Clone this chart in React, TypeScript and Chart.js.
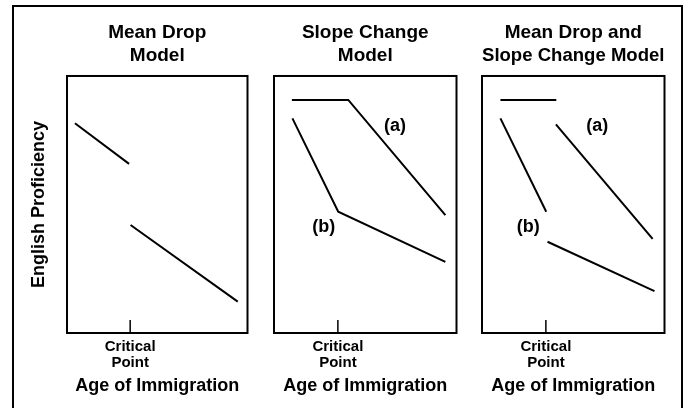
import React, { useEffect, useRef } from 'react';
import { Chart, registerables } from 'chart.js';

Chart.register(...registerables);

const FONT = '"Liberation Sans", Arial, Helvetica, sans-serif';

// ---- data ----
const xRange = [0, 100];
const yRange = [0, 100];
const criticalPoint = 35;
const criticalLabel = ['Critical', 'Point'];
const xAxisTitle = 'Age of Immigration';
const yAxisTitle = 'English Proficiency';

const titleMeanDrop = ['Mean Drop', 'Model'];
const titleSlopeChange = ['Slope Change', 'Model'];
const titleCombined = ['Mean Drop and', 'Slope Change Model'];

// Mean Drop Model
const meanDropBefore = [{ x: 4.4, y: 81.6 }, { x: 34.4, y: 65.8 }];
const meanDropAfter = [{ x: 35.2, y: 42.0 }, { x: 94.6, y: 12.2 }];

// Slope Change Model
const slopeA = [{ x: 9.8, y: 90.7 }, { x: 40.7, y: 90.7 }, { x: 93.9, y: 45.9 }];
const slopeB = [{ x: 10.1, y: 83.5 }, { x: 35.2, y: 47.2 }, { x: 93.9, y: 27.7 }];
const slopeLabels = [{ text: '(a)', x: 66.3, y: 80.7 }, { text: '(b)', x: 27.2, y: 41.4 }];

// Mean Drop and Slope Change Model
const combinedAFlat = [{ x: 10.1, y: 90.7 }, { x: 40.7, y: 90.7 }];
const combinedADrop = [{ x: 40.5, y: 81.2 }, { x: 93.5, y: 36.6 }];
const combinedBBefore = [{ x: 10.1, y: 83.5 }, { x: 35.2, y: 47.2 }];
const combinedBAfter = [{ x: 35.9, y: 35.5 }, { x: 94.5, y: 16.3 }];
const combinedLabels = [{ text: '(a)', x: 63.2, y: 80.7 }, { text: '(b)', x: 25.4, y: 41.4 }];

type Pt = { x: number; y: number };
type Lbl = { text: string; x: number; y: number };

interface PanelProps {
  left: number;
  width: number;
  title: string[];
  series: Pt[][];
  labels: Lbl[];
  showY: boolean;
  padLeft: number;
  padRight: number;
}

function Panel({ left, width, title, series, labels, showY, padLeft, padRight }: PanelProps) {
  const ref = useRef<HTMLCanvasElement | null>(null);
  useEffect(() => {
    if (!ref.current) return;
    const framePlugin = {
      id: 'frameAndLabels',
      afterDatasetsDraw(chart: any) {
        const { ctx, chartArea: a, scales } = chart;
        ctx.save();
        ctx.strokeStyle = '#000';
        ctx.lineWidth = 2;
        ctx.strokeRect(a.left, a.top, a.right - a.left, a.bottom - a.top);
        const px = scales.x.getPixelForValue(criticalPoint);
        ctx.lineWidth = 1.5;
        ctx.beginPath();
        ctx.moveTo(px, a.bottom);
        ctx.lineTo(px, a.bottom - 13);
        ctx.stroke();
        ctx.fillStyle = '#000';
        ctx.font = `bold 18px ${FONT}`;
        ctx.textAlign = 'center';
        ctx.textBaseline = 'middle';
        for (const l of labels) {
          ctx.fillText(l.text, scales.x.getPixelForValue(l.x), scales.y.getPixelForValue(l.y));
        }
        ctx.restore();
      },
    };
    const chart = new Chart(ref.current, {
      type: 'line',
      data: {
        datasets: series.map((s) => ({
          data: s,
          borderColor: '#000',
          borderWidth: 2,
          pointRadius: 0,
          fill: false,
          tension: 0,
        })),
      },
      options: {
        animation: false,
        responsive: false,
        events: [],
        layout: { padding: { left: padLeft, right: padRight, top: 0, bottom: 0 } },
        plugins: {
          legend: { display: false },
          tooltip: { enabled: false },
          title: {
            display: true,
            text: title,
            color: '#000',
            fullSize: false,
            font: { family: FONT, size: 19, weight: 'bold', lineHeight: 1.21 },
            padding: { top: 21.5, bottom: 8.5 },
          },
        },
        scales: {
          x: {
            type: 'linear',
            min: xRange[0],
            max: xRange[1],
            position: 'bottom',
            grid: { display: false, drawTicks: false, tickLength: 0 },
            border: { display: false },
            afterBuildTicks: (scale: any) => {
              scale.ticks = [{ value: criticalPoint }];
            },
            afterFit: (scale: any) => {
              scale.height = 75;
            },
            ticks: {
              autoSkip: false,
              maxRotation: 0,
              minRotation: 0,
              padding: 6,
              color: '#000',
              font: { family: FONT, size: 15, weight: 'bold', lineHeight: 1.07 },
              callback: () => criticalLabel,
            },
            title: {
              display: true,
              text: xAxisTitle,
              color: '#000',
              font: { family: FONT, size: 18, weight: 'bold', lineHeight: 1.2 },
              padding: { top: 0, bottom: 11.2 },
            },
          },
          y: {
            type: 'linear',
            min: yRange[0],
            max: yRange[1],
            display: showY,
            grid: { display: false },
            border: { display: false },
            ticks: { display: false },
            afterFit: (scale: any) => {
              if (showY) scale.width = 53;
            },
            title: {
              display: showY,
              text: yAxisTitle,
              color: '#000',
              font: { family: FONT, size: 18, weight: 'bold', lineHeight: 1.2 },
              padding: { top: 14, bottom: 0 },
            },
          },
        },
      } as any,
      plugins: [framePlugin],
    });
    return () => chart.destroy();
  }, []);
  return (
    <canvas
      ref={ref}
      width={width}
      height={408}
      style={{ position: 'absolute', left, top: 0, width, height: 408 }}
    />
  );
}

export default function App() {
  return (
    <div style={{ position: 'absolute', left: 0, top: 0, width: 686, height: 408, overflow: 'hidden', background: '#fff' }}>
      <div
        style={{
          position: 'absolute',
          left: 12,
          top: 5,
          width: 667,
          height: 420,
          border: '2px solid #000',
          borderBottom: 'none',
        }}
      />
      <Panel left={14} width={248} title={titleMeanDrop} series={[meanDropBefore, meanDropAfter]} labels={[]} showY={true} padLeft={0} padRight={14.5} />
      <Panel left={262} width={208} title={titleSlopeChange} series={[slopeA, slopeB]} labels={slopeLabels} showY={false} padLeft={12} padRight={13.5} />
      <Panel left={470} width={208} title={titleCombined} series={[combinedAFlat, combinedADrop, combinedBBefore, combinedBAfter]} labels={combinedLabels} showY={false} padLeft={12} padRight={13.5} />
    </div>
  );
}
